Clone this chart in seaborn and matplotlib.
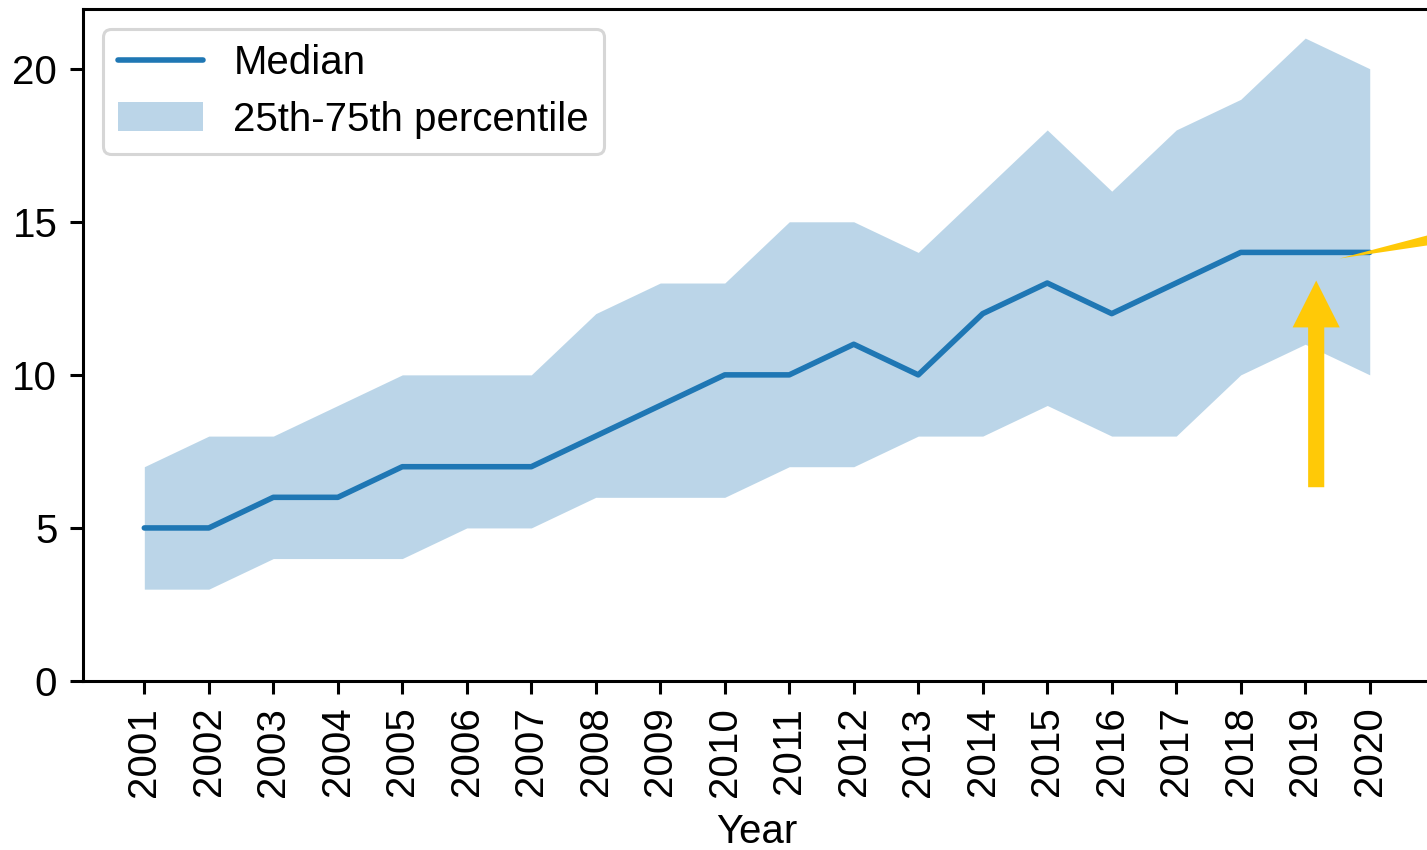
import matplotlib
matplotlib.use("Agg")
import matplotlib.pyplot as plt
import seaborn as sns
import pandas as pd

years = list(range(2001, 2021))
median = [5, 5, 6, 6, 7, 7, 7, 8, 9, 10, 10, 11, 10, 12, 13, 12, 13, 14, 14, 14]
p25 = [3, 3, 4, 4, 4, 5, 5, 6, 6, 6, 7, 7, 8, 8, 9, 8, 8, 10, 11, 10]
p75 = [7, 8, 8, 9, 10, 10, 10, 12, 13, 13, 15, 15, 14, 16, 18, 16, 18, 19, 21, 20]

sns.set_style("ticks")
plt.rcParams["font.family"] = ["Liberation Sans", "DejaVu Sans"]
plt.rcParams["text.color"] = "black"
plt.rcParams["axes.labelcolor"] = "black"
plt.rcParams["xtick.color"] = "black"
plt.rcParams["ytick.color"] = "black"

blue = "#1f77b4"
yellow = "#ffc907"

df = pd.DataFrame({"Year": years, "Median": median, "p25": p25, "p75": p75})

fig = plt.figure(figsize=(14.27, 8.5), dpi=100)
ax = fig.add_axes([0.0582, 0.1988, 0.9446, 0.7906])

ax.fill_between(df["Year"], df["p25"], df["p75"], color=blue, alpha=0.3,
                linewidth=0, label="25th-75th percentile")
sns.lineplot(data=df, x="Year", y="Median", ax=ax, color=blue, linewidth=4,
             label="Median")

ax.set_xlim(2000.05, 2020.95)
ax.set_ylim(0, 21.95)
ax.set_xticks(years)
ax.set_xticklabels([str(y) for y in years], rotation=90)
ax.set_yticks([0, 5, 10, 15, 20])
ax.tick_params(axis="both", labelsize=29, width=2.2, length=9.5,
               direction="out", pad=9)
ax.set_xlabel("Year", fontsize=29, labelpad=12)
ax.set_ylabel("")
for s in ax.spines.values():
    s.set_linewidth(2.2)
    s.set_color("black")

# annotation arrows
ax.arrow(2019.17, 6.33, 0, 13.08 - 6.33, width=0.25, head_width=0.73,
         head_length=1.53, length_includes_head=True, color=yellow, lw=0,
         zorder=5)
ax.annotate("", xy=(2019.53, 13.8), xytext=(2023.6, 15.56),
            arrowprops=dict(arrowstyle="wedge,tail_width=2.1,shrink_factor=0.5",
                            color=yellow, lw=0, shrinkA=0, shrinkB=0),
            annotation_clip=False, zorder=5)

handles, labels = ax.get_legend_handles_labels()
order = [labels.index("Median"), labels.index("25th-75th percentile")]
leg = ax.legend([handles[i] for i in order], [labels[i] for i in order],
                loc="upper left", fontsize=29, frameon=True, borderpad=0.38,
                borderaxespad=0.5, handlelength=2.1, handletextpad=0.75,
                labelspacing=0.45)
leg.get_frame().set_linewidth(2.2)

fig.savefig("out.png", dpi=100)
